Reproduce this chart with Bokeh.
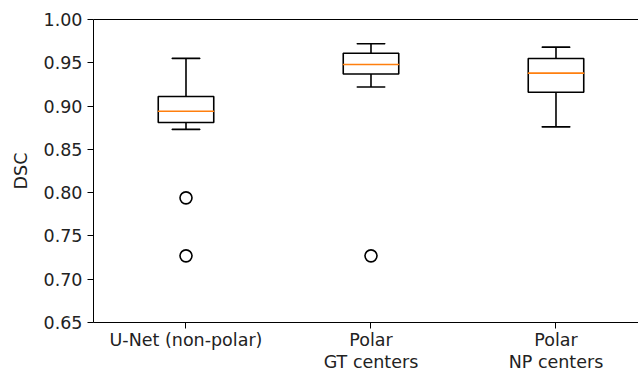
from bokeh.plotting import figure
from bokeh.models import Range1d, LinearAxis, FixedTicker, ColumnDataSource, NumeralTickFormatter
from bokeh.embed import file_html
from bokeh.resources import INLINE

categories = ["U-Net (non-polar)", "Polar\nGT centers", "Polar\nNP centers"]
positions = [1, 2, 3]
whisker_low = [0.873, 0.922, 0.876]
q1 = [0.881, 0.937, 0.916]
median = [0.894, 0.948, 0.938]
q3 = [0.911, 0.961, 0.955]
whisker_high = [0.955, 0.972, 0.968]
outlier_x = [1, 1, 2]
outlier_y = [0.794, 0.727, 0.727]
y_ticks = [0.65, 0.70, 0.75, 0.80, 0.85, 0.90, 0.95, 1.00]

box_w = 0.30
cap_w = 0.15

p = figure(width=638, height=374, output_backend="svg", toolbar_location=None,
           x_range=Range1d(0.5, 3.446), y_range=Range1d(0.65, 1.00),
           x_axis_location=None, y_axis_location=None,
           min_border_left=93, min_border_right=0, min_border_top=19, min_border_bottom=50)
p.outline_line_color = None
p.grid.visible = False
p.background_fill_color = "white"

font = "DejaVu Sans"
fs = "17.5px"
tc = "#222222"

yaxis = LinearAxis(ticker=FixedTicker(ticks=y_ticks))
yaxis.formatter = NumeralTickFormatter(format="0.00")
yaxis.axis_label = "DSC"
yaxis.axis_label_text_font = font
yaxis.axis_label_text_font_size = fs
yaxis.axis_label_text_font_style = "normal"
yaxis.axis_label_text_color = tc
yaxis.axis_label_standoff = 10
yaxis.major_label_text_font = font
yaxis.major_label_text_font_size = fs
yaxis.major_label_text_color = tc
yaxis.major_tick_out = 6
yaxis.major_tick_in = 0
yaxis.minor_tick_out = 0
yaxis.minor_tick_in = 0
yaxis.major_label_standoff = 5
yaxis.axis_line_color = "black"
yaxis.major_tick_line_color = "black"
p.add_layout(yaxis, "left")

xaxis = LinearAxis(ticker=FixedTicker(ticks=positions))
xaxis.major_label_overrides = {pos: lab for pos, lab in zip(positions, categories)}
xaxis.major_label_text_font = font
xaxis.major_label_text_font_size = fs
xaxis.major_label_text_color = tc
xaxis.major_label_text_line_height = 1.12
xaxis.major_tick_out = 6
xaxis.major_tick_in = 0
xaxis.minor_tick_out = 0
xaxis.minor_tick_in = 0
xaxis.major_label_standoff = 1
xaxis.axis_line_color = "black"
p.add_layout(xaxis, "below")

top = LinearAxis(ticker=FixedTicker(ticks=[]))
top.major_label_text_font_size = "0px"
top.major_tick_line_color = None
top.minor_tick_line_color = None
top.major_tick_out = 0
top.major_label_standoff = 0
top.axis_line_color = "black"
p.add_layout(top, "above")

src = ColumnDataSource(dict(x=positions, lo=whisker_low, q1=q1, med=median, q3=q3, hi=whisker_high))

# whiskers
p.segment(x0="x", y0="q3", x1="x", y1="hi", source=src, line_color="black", line_width=1.6)
p.segment(x0="x", y0="lo", x1="x", y1="q1", source=src, line_color="black", line_width=1.6)
# caps
p.rect(x="x", y="hi", width=cap_w, height=0.0001, source=src, fill_color=None, line_color="black", line_width=1.6)
p.rect(x="x", y="lo", width=cap_w, height=0.0001, source=src, fill_color=None, line_color="black", line_width=1.6)
# boxes
p.vbar(x="x", width=box_w, bottom="q1", top="q3", source=src, fill_color=None, line_color="black", line_width=1.6)
# medians
p.rect(x="x", y="med", width=box_w, height=0.0001, source=src, fill_color=None, line_color="#ff7f0e", line_width=1.6)
# outliers
p.scatter(x=outlier_x, y=outlier_y, marker="circle", size=12, fill_color=None, line_color="black", line_width=1.6)

open("out.html", "w").write(file_html(p, INLINE))
